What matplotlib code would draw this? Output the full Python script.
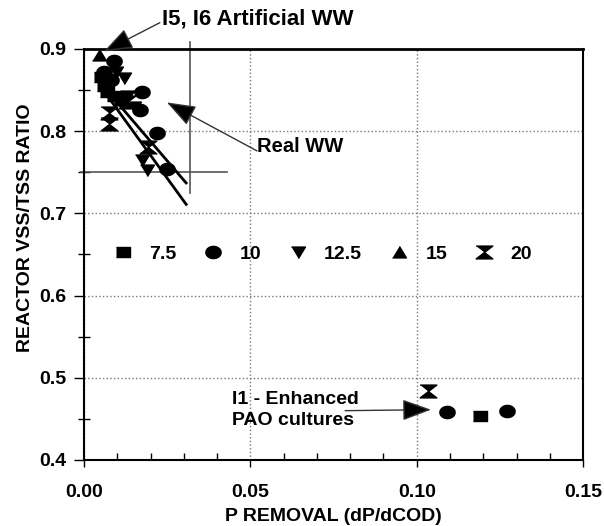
import numpy as np
import matplotlib
matplotlib.use("Agg")
import matplotlib.pyplot as plt
from matplotlib.lines import Line2D
from matplotlib.ticker import MultipleLocator, FormatStrFormatter

# data (P removal vs VSS/TSS), grouped by SRT / label
x_75 = [0.005, 0.006, 0.007, 0.009, 0.011, 0.119]
y_75 = [0.866, 0.855, 0.848, 0.843, 0.838, 0.454]

x_10 = [0.009, 0.006, 0.008, 0.0175, 0.0168, 0.022, 0.025, 0.109, 0.127]
y_10 = [0.885, 0.872, 0.862, 0.848, 0.826, 0.798, 0.754, 0.458, 0.459]

x_125 = [0.0095, 0.012, 0.013, 0.015, 0.0175, 0.019]
y_125 = [0.872, 0.865, 0.843, 0.830, 0.765, 0.753]

x_15 = [0.0045, 0.007, 0.011]
y_15 = [0.893, 0.862, 0.840]

x_20 = [0.0075, 0.0075, 0.013, 0.0192, 0.1034]
y_20 = [0.822, 0.809, 0.835, 0.781, 0.484]

labels = ["7.5", "10", "12.5", "15", "20"]

# regression lines through the real WW points
fit_a_x = [0.0087, 0.0307]
fit_a_y = [0.841, 0.737]
fit_b_x = [0.0072, 0.0307]
fit_b_y = [0.842, 0.711]

# mean +/- spread cross
cross_v_x = [0.0319, 0.0319]
cross_v_y = [0.908, 0.725]
cross_h_x = [-0.001, 0.043]
cross_h_y = [0.75, 0.75]

plt.rcParams['font.family'] = ['Liberation Sans', 'DejaVu Sans']
plt.rcParams['font.weight'] = 'bold'
plt.rcParams['font.size'] = 14

# marker shapes (the original is stretched a little horizontally)
t = np.linspace(0, 2 * np.pi, 40)
m_ellipse = list(zip(1.25 * np.cos(t), np.sin(t)))
m_square = [(-1.2, -1), (1.2, -1), (1.2, 1), (-1.2, 1)]
m_down = [(-1.15, 0.9), (1.15, 0.9), (0, -1.0)]
m_up = [(-1.15, -0.9), (1.15, -0.9), (0, 1.0)]
m_hour = [(-1.3, 1), (1.3, 1), (0, 0), (1.3, -1), (-1.3, -1), (0, 0)]

fig = plt.figure(figsize=(6.04, 5.26), dpi=100)
ax = fig.add_axes([0.1391, 0.1255, 0.8262, 0.7814])

ax.plot(cross_v_x, cross_v_y, color='#555555', lw=1.2, clip_on=False)
ax.plot(cross_h_x, cross_h_y, color='#555555', lw=1.2, clip_on=False)

ax.plot(fit_a_x, fit_a_y, color='black', lw=2)
ax.plot(fit_b_x, fit_b_y, color='black', lw=2)

series = [
    (x_75, y_75, m_square, 9.5),
    (x_10, y_10, m_ellipse, 11),
    (x_125, y_125, m_down, 10),
    (x_15, y_15, m_up, 10),
    (x_20, y_20, m_hour, 12),
]
handles = []
for (xs, ys, mk, ms), lab in zip(series, labels):
    ax.plot(xs, ys, linestyle='none', marker=mk, markersize=ms,
            color='black', clip_on=False)
    handles.append(Line2D([], [], linestyle='none', marker=mk,
                          markersize=ms, color='black', label=lab))

ax.legend(handles=handles, ncol=5, frameon=False, loc='center left',
          bbox_to_anchor=(0.058, 0.501), borderpad=0, borderaxespad=0,
          handlelength=1.0, handletextpad=0.85, columnspacing=1.4,
          fontsize=14)

arrow = dict(arrowstyle='-|>,head_length=0.6,head_width=0.22',
             mutation_scale=30, lw=1, ec='#333333', fc='black',
             shrinkA=0, shrinkB=0)

ax.annotate('', xy=(0.006, 0.897), xytext=(0.0228, 0.932),
            arrowprops=arrow, annotation_clip=False)
ax.text(0.0234, 0.937, 'I5, I6 Artificial WW', ha='left', va='center',
        fontsize=16, fontweight='bold', clip_on=False)

ax.annotate('', xy=(0.0249, 0.835), xytext=(0.052, 0.776),
            arrowprops=arrow)
ax.text(0.052, 0.781, 'Real WW', ha='left', va='center',
        fontsize=14.5, fontweight='bold')

ax.annotate('', xy=(0.1043, 0.4612), xytext=(0.0785, 0.460),
            arrowprops=arrow)
ax.text(0.0445, 0.461, 'I1 - Enhanced\nPAO cultures', ha='left',
        va='center', fontsize=14, fontweight='bold', linespacing=1.35)

ax.set_xlim(0, 0.15)
ax.set_ylim(0.4, 0.9)
ax.xaxis.set_major_locator(MultipleLocator(0.05))
ax.xaxis.set_minor_locator(MultipleLocator(0.01))
ax.yaxis.set_major_locator(MultipleLocator(0.1))
ax.yaxis.set_minor_locator(MultipleLocator(0.05))
ax.xaxis.set_major_formatter(FormatStrFormatter('%.2f'))
ax.yaxis.set_major_formatter(FormatStrFormatter('%.1f'))

ax.tick_params(axis='x', which='major', direction='out', length=5,
               width=1, labelsize=14, pad=12)
ax.tick_params(axis='x', which='minor', direction='in', length=5, width=1)
ax.tick_params(axis='y', which='major', direction='out', length=7,
               width=1, labelsize=14, pad=6)
ax.tick_params(axis='y', which='minor', direction='inout', length=8,
               width=1)

ax.grid(True, which='major', linestyle=':', color='#777777', lw=1)
for s in ['left', 'bottom', 'right']:
    ax.spines[s].set_linewidth(1.5)
ax.spines['top'].set_linewidth(2)

ax.set_xlabel('P REMOVAL (dP/dCOD)', fontsize=14, fontweight='bold',
              labelpad=5)
ax.set_ylabel('REACTOR VSS/TSS RATIO', fontsize=14, fontweight='bold')
ax.yaxis.set_label_coords(-0.1, 0.564)

fig.savefig('out.png', dpi=100)
